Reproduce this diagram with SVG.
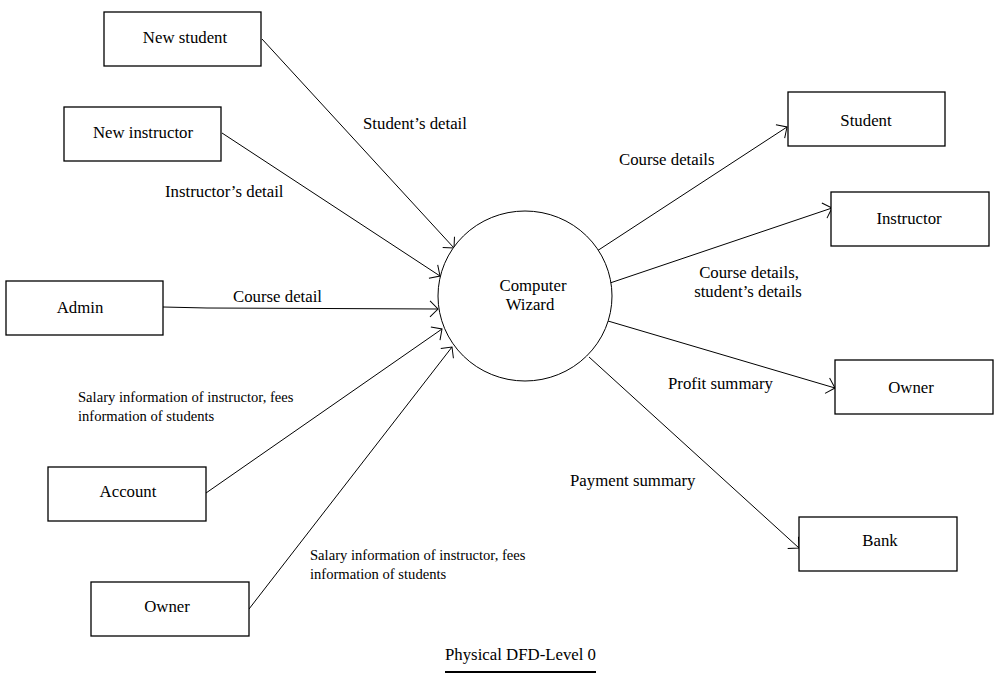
<svg xmlns="http://www.w3.org/2000/svg" width="1004" height="691" viewBox="0 0 1004 691">
<defs>
<style>
.box{fill:#fff;stroke:#000;stroke-width:1.3}
.t{font-family:"Liberation Serif","Times New Roman",serif;font-size:16.8px;fill:#000}
.c{text-anchor:middle}
.s{font-family:"Liberation Serif","Times New Roman",serif;font-size:14.6px;fill:#000}
.ln{fill:none;stroke:#000;stroke-width:1;marker-end:url(#ah)}
</style>
<marker id="ah" markerUnits="userSpaceOnUse" viewBox="-10 -10 12 20" markerWidth="12" markerHeight="20" refX="0" refY="0" orient="auto" overflow="visible">
<path d="M-8,-8 L0,0 L-8,8" fill="none" stroke="#000" stroke-width="1"/>
</marker>
</defs>
<rect width="1004" height="691" fill="#fff"/>
<g id="connectors">
<line class="ln" x1="262" y1="39" x2="454" y2="248"/>
<line class="ln" x1="222" y1="133" x2="440" y2="276"/>
<polyline class="ln" points="163,307 207,308 438,309"/>
<line class="ln" x1="206" y1="493" x2="442" y2="329"/>
<line class="ln" x1="249" y1="609" x2="452" y2="347"/>
<line class="ln" x1="597" y1="251" x2="787" y2="127"/>
<line class="ln" x1="610" y1="283" x2="832" y2="208"/>
<line class="ln" x1="608" y1="321" x2="835" y2="388"/>
<line class="ln" x1="589" y1="357" x2="799" y2="548"/>
</g>
<g id="labels">
<text class="t" x="363" y="129">Student’s detail</text>
<text class="t" x="165" y="197">Instructor’s detail</text>
<text class="t" x="233" y="302">Course detail</text>
<text class="s" x="78" y="402">Salary information of instructor, fees</text>
<text class="s" x="78" y="421">information of students</text>
<text class="s" x="310" y="560">Salary information of instructor, fees</text>
<text class="s" x="310" y="579">information of students</text>
<text class="t" x="619" y="165">Course details</text>
<text class="t c" x="749" y="278">Course details,</text>
<text class="t c" x="748" y="297">student’s details</text>
<text class="t" x="668" y="389">Profit summary</text>
<text class="t" x="570" y="486">Payment summary</text>
</g>
<g id="wizard">
<ellipse cx="525" cy="296" rx="87" ry="85" fill="#fff" stroke="#000" stroke-width="1"/>
<text class="t c" x="533" y="291">Computer</text>
<text class="t c" x="530" y="310">Wizard</text>
</g>
<g id="new-student"><rect class="box" x="104" y="12" width="157" height="54"/><text class="t c" x="185" y="43">New student</text></g>
<g id="new-instructor"><rect class="box" x="64" y="107" width="157" height="54"/><text class="t c" x="143" y="138">New instructor</text></g>
<g id="admin"><rect class="box" x="6" y="281" width="157" height="54"/><text class="t c" x="80" y="313">Admin</text></g>
<g id="account"><rect class="box" x="48" y="467" width="158" height="54"/><text class="t c" x="128" y="497">Account</text></g>
<g id="owner-left"><rect class="box" x="91" y="582" width="158" height="54"/><text class="t c" x="167" y="612">Owner</text></g>
<g id="student"><rect class="box" x="788" y="92" width="157" height="54"/><text class="t c" x="866" y="126">Student</text></g>
<g id="instructor"><rect class="box" x="831" y="192" width="158" height="54"/><text class="t c" x="909" y="224">Instructor</text></g>
<g id="owner-right"><rect class="box" x="835" y="360" width="158" height="54"/><text class="t c" x="911" y="393">Owner</text></g>
<g id="bank"><rect class="box" x="799" y="517" width="158" height="54"/><text class="t c" x="880" y="546">Bank</text></g>
<g id="title">
<text class="t" x="445" y="660">Physical DFD-Level 0</text>
<line x1="445" y1="672" x2="596" y2="672" stroke="#000" stroke-width="2"/>
</g>
</svg>
